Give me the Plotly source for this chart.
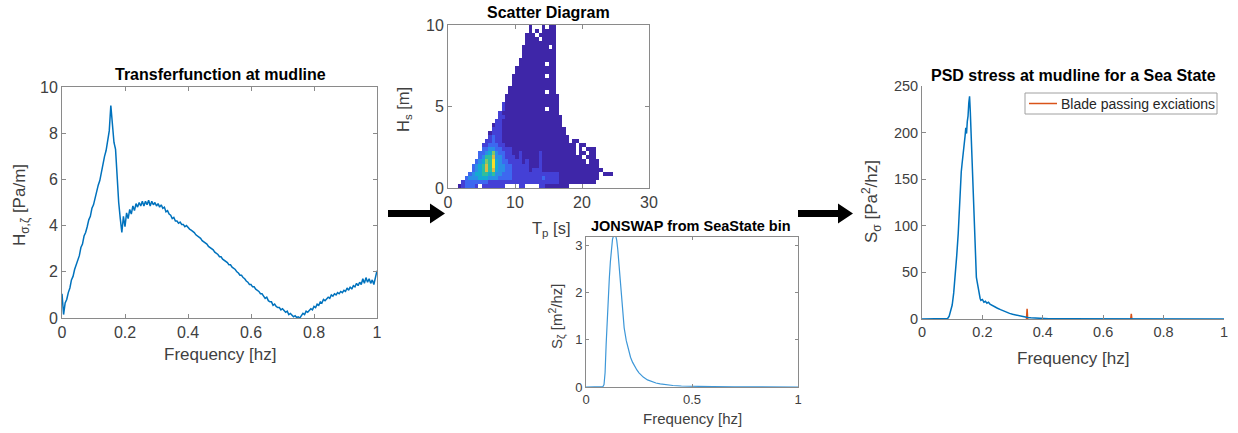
import numpy as np
import plotly.graph_objects as go

# ---------------------------------------------------------------------------
# Transfer function at mudline, H_sigma,zeta [Pa/m], sampled 0 ... 1 Hz (0.005 Hz)
# ---------------------------------------------------------------------------
tf_H = [
    1.05, 0.15, 0.65, 0.80, 1.10, 1.30, 1.65, 1.80, 2.10, 2.30,
    2.55, 2.70, 3.05, 3.20, 3.55, 3.70, 3.95, 4.25, 4.40, 4.75,
    4.90, 5.20, 5.40, 5.75, 5.95, 6.35, 6.60, 7.00, 7.25, 7.75,
    8.10, 9.20, 8.40, 7.60, 7.30, 6.00, 5.00, 4.30, 3.70, 4.40,
    3.95, 4.55, 4.30, 4.70, 4.50, 4.85, 4.65, 4.95, 4.80, 5.00,
    4.85, 5.05, 4.85, 5.05, 4.90, 5.10, 4.85, 5.05, 4.90, 5.00,
    4.85, 4.95, 4.80, 4.90, 4.75, 4.80, 4.60, 4.65, 4.50, 4.45,
    4.30, 4.35, 4.20, 4.20, 4.10, 4.15, 4.05, 4.05, 3.95, 4.00,
    3.90, 3.85, 3.80, 3.75, 3.70, 3.60, 3.55, 3.50, 3.45, 3.35,
    3.30, 3.25, 3.20, 3.10, 3.05, 3.00, 2.95, 2.85, 2.80, 2.75,
    2.65, 2.65, 2.55, 2.50, 2.45, 2.40, 2.30, 2.30, 2.20, 2.15,
    2.10, 2.00, 1.95, 1.85, 1.85, 1.75, 1.70, 1.60, 1.55, 1.45,
    1.45, 1.35, 1.35, 1.25, 1.20, 1.15, 1.05, 1.05, 0.95, 0.85,
    0.90, 0.75, 0.70, 0.70, 0.55, 0.60, 0.50, 0.45, 0.45, 0.35,
    0.40, 0.30, 0.25, 0.30, 0.15, 0.20, 0.10, 0.05, 0.10, 0.02,
    0.05, 0.00, 0.10, 0.20, 0.15, 0.30, 0.25, 0.35, 0.40, 0.35,
    0.50, 0.45, 0.60, 0.55, 0.70, 0.65, 0.80, 0.75, 0.85, 0.90,
    0.85, 1.00, 0.95, 1.05, 1.00, 1.10, 1.05, 1.15, 1.10, 1.20,
    1.15, 1.30, 1.20, 1.35, 1.25, 1.40, 1.35, 1.50, 1.40, 1.55,
    1.45, 1.70, 1.50, 1.75, 1.55, 1.70, 1.50, 1.65, 1.45, 1.70,
    2.05,
]
tf_freq = np.linspace(0.0, 1.0, len(tf_H))

# ---------------------------------------------------------------------------
# JONSWAP spectrum for one sea-state bin, S_zeta [m^2/hz]
# ---------------------------------------------------------------------------
js_freq = [0.0, 0.07, 0.08, 0.085, 0.09, 0.095, 0.10, 0.105, 0.11, 0.115,
           0.12, 0.125, 0.13, 0.135, 0.14, 0.145, 0.15, 0.155, 0.16, 0.165,
           0.17, 0.18, 0.19, 0.20, 0.21, 0.22, 0.23, 0.24, 0.25, 0.27,
           0.29, 0.31, 0.33, 0.35, 0.38, 0.41, 0.45, 0.50, 0.55, 0.60,
           0.70, 0.80, 0.90, 1.00]
js_S = [0.0, 0.0, 0.01, 0.05, 0.30, 0.90, 1.45, 1.95, 2.30, 2.65,
        2.95, 3.12, 3.20, 3.22, 3.20, 3.10, 2.90, 2.60, 2.25, 1.95,
        1.65, 1.25, 0.98, 0.78, 0.63, 0.52, 0.43, 0.36, 0.30, 0.21,
        0.15, 0.11, 0.085, 0.065, 0.045, 0.032, 0.021, 0.013, 0.009, 0.006,
        0.003, 0.0015, 0.0008, 0.0005]

# ---------------------------------------------------------------------------
# PSD of stress at mudline, S_sigma [Pa^2/hz]
# ---------------------------------------------------------------------------
psd_freq = [0.0, 0.08, 0.085, 0.09, 0.095, 0.10, 0.105, 0.11, 0.115, 0.12,
            0.1225, 0.125, 0.1275, 0.13, 0.1325, 0.135, 0.1375, 0.14, 0.1425, 0.145,
            0.1475, 0.15, 0.1525, 0.155, 0.1575, 0.16, 0.1625, 0.165, 0.1675, 0.17,
            0.1725, 0.175, 0.1775, 0.18, 0.1825, 0.185, 0.1875, 0.19, 0.1925, 0.195,
            0.20, 0.205, 0.21, 0.215, 0.22, 0.225, 0.23, 0.235, 0.24, 0.245,
            0.25, 0.26, 0.27, 0.28, 0.29, 0.30, 0.31, 0.32, 0.33, 0.34,
            0.35, 0.36, 0.37, 0.38, 0.39, 0.40, 0.42, 0.45, 0.50, 0.60,
            0.70, 0.80, 1.00]
psd_S = [0.0, 0.0, 0.5, 3.0, 8.0, 15.0, 28.0, 45.0, 68.0, 92.0,
         112.0, 128.0, 142.0, 158.0, 166.0, 172.0, 184.0, 190.0, 196.0, 205.0,
         199.0, 212.0, 218.0, 232.0, 239.0, 222.0, 200.0, 180.0, 150.0, 130.0,
         108.0, 80.0, 60.0, 45.0, 40.0, 35.0, 32.0, 27.0, 22.0, 20.0,
         21.0, 18.0, 19.0, 17.0, 18.0, 16.0, 15.0, 14.0, 13.0, 12.0,
         11.5, 10.0, 8.5, 7.2, 6.0, 5.0, 4.2, 3.4, 2.7, 2.2,
         1.7, 1.3, 1.0, 0.7, 0.5, 0.4, 0.25, 0.15, 0.08, 0.03,
         0.01, 0.0, 0.0]

# blade passing excitations (frequency [hz], amplitude [Pa^2/hz])
blade_freq = [0.348, 0.693]
blade_amp = [11.0, 5.5]
blade_label = "Blade passing exciations"

# ---------------------------------------------------------------------------
# Scatter diagram: occurrence class per (Hs, Tp) bin.
# Rows: Hs bins of 0.25 m from 0 m upwards; columns: Tp bins of 0.5 s from 0 s.
# Each row = (first Tp column, classes 1..9, '.' = no occurrence)
# ---------------------------------------------------------------------------
hs_bin = 0.25
tp_bin = 0.5
n_hs, n_tp = 40, 50
scatter_rows = [
    (3, "123332.2222222....22....221111111"),
    (4, "2333333322222" + "222222222222222211111" + "111111"),
    (5, "344455544433332" + "222222223222211111" + "1111111"),
    (6, "34556656443332" + "222222222222211111" + "1111111.111"),
    (7, "345686854433" + "2222212221111111111" + "11111111"),
    (7, "345686954433" + "2222211121111111111" + "1111111"),
    (8, "34576954332" + "2221211121111111111" + "111.111"),
    (9, "3466844322" + "2121111121111111111" + "11.111"),
    (9, "3345743322" + "1121111121111111111" + ".11.11"),
    (10, "3344332221" + "111111111111111111" + ".1.111"),
    (10, "2233322111" + "111111111111111111" + ".11"),
    (11, "2232211111" + "111111111111111" + ".11"),
    (12, "232211111111111111111111"),
    (12, "12221111111111111111111"),
    (13, "2221111111111111111111"),
    (13, "122111111111111111111"),
    (14, "22111111111111111111"),
    (15, "2211111111111111111"),
    (15, "211111111111111111"),
    (16, "2111111111111.111"),
    (16, "21111111111111111"),
    (17, "1111111111111111"),
    (17, "1111111111111111"),
    (18, "11111111111.11"),
    (18, "11111111111111"),
    (19, "1111111111111"),
    (19, "1111111111111"),
    (19, "1111111111.11"),
    (20, "111111111111"),
    (20, "111111111111"),
    (21, "11111111.11"),
    (21, "11111111111"),
    (22, "1111111111"),
    (22, "1111111111"),
    (22, "11111111.1"),
    (23, "111111111"),
    (23, "1111.1111"),
    (23, "111.11111"),
    (24, "1.1.1111"),
    (24, "1...1.11"),
]

scatter_z = [[None] * n_tp for _ in range(n_hs)]
for k, (start, cells) in enumerate(scatter_rows):
    for i, c in enumerate(cells):
        if c != ".":
            scatter_z[k][start + i] = int(c)
tp_centers = [tp_bin * (j + 0.5) for j in range(n_tp)]
hs_centers = [hs_bin * (k + 0.5) for k in range(n_hs)]

# parula-like colour scale for the occurrence classes
parula = [
    [0.000, "#3E26A8"], [0.125, "#4440D6"], [0.250, "#3D68F0"],
    [0.375, "#2A8EE6"], [0.500, "#14AAD2"], [0.625, "#2EBE9E"],
    [0.750, "#80C868"], [0.875, "#D8BC45"], [1.000, "#F6DF2A"],
]

# ---------------------------------------------------------------------------
W, H = 1238, 433
FONT = "Liberation Sans, Arial, sans-serif"
AXC = "#8a8a8a"
TXT = "#404040"
BLUE = "#0072BD"
ORANGE = "#D95319"


def px(x):
    """x in pixels from the left -> paper fraction"""
    return x / W


def py(y):
    """y in pixels from the top -> paper fraction"""
    return 1 - y / H


def axis(domain, rng, tickvals, ticktext, anchor, mirror, fsize, ticklen=4):
    return dict(
        domain=domain, range=rng, tickvals=tickvals, ticktext=ticktext,
        anchor=anchor, showline=True, linecolor=AXC, linewidth=1,
        mirror=mirror, ticks="inside", ticklen=ticklen, tickcolor=AXC,
        showgrid=False, zeroline=False, fixedrange=True, automargin=False,
        tickfont=dict(family=FONT, size=fsize, color=TXT),
    )


fig = go.Figure()

# transfer function
fig.add_trace(go.Scatter(x=tf_freq, y=tf_H, mode="lines",
                         line=dict(color=BLUE, width=1.5),
                         xaxis="x", yaxis="y", showlegend=False))

# scatter diagram
fig.add_trace(go.Heatmap(x=tp_centers, y=hs_centers, z=scatter_z,
                         colorscale=parula, zmin=1, zmax=9, showscale=False,
                         xaxis="x2", yaxis="y2", hoverongaps=False))

# JONSWAP spectrum
fig.add_trace(go.Scatter(x=js_freq, y=js_S, mode="lines",
                         line=dict(color="#3d97d8", width=1.2),
                         xaxis="x3", yaxis="y3", showlegend=False))

# blade passing spikes (drawn below the stress PSD)
bx, by = [], []
for f, a in zip(blade_freq, blade_amp):
    bx += [f - 0.002, f, f + 0.002, None]
    by += [0.0, a, 0.0, None]
fig.add_trace(go.Scatter(x=bx, y=by, mode="lines",
                         line=dict(color=ORANGE, width=1.5),
                         name=blade_label,
                         xaxis="x4", yaxis="y4", showlegend=False))

# stress PSD
fig.add_trace(go.Scatter(x=psd_freq, y=psd_S, mode="lines",
                         line=dict(color=BLUE, width=1.5),
                         xaxis="x4", yaxis="y4", showlegend=False))

f_ticks = [0, 0.2, 0.4, 0.6, 0.8, 1]
f_text = ["0", "0.2", "0.4", "0.6", "0.8", "1"]

layout = dict(
    width=W, height=H, autosize=False,
    margin=dict(l=0, r=0, t=0, b=0, pad=0),
    paper_bgcolor="white", plot_bgcolor="white",
    font=dict(family=FONT, color=TXT),
    showlegend=False,
    xaxis=axis([px(62), px(377)], [0, 1], f_ticks, f_text, "y", "ticks", 16),
    yaxis=axis([py(318), py(87)], [0, 10], [0, 2, 4, 6, 8, 10],
               ["0", "2", "4", "6", "8", "10"], "x", "ticks", 16),
    xaxis2=axis([px(448), px(649)], [0, 30], [0, 10, 20, 30],
                ["0", "10", "20", "30"], "y2", "ticks", 16),
    yaxis2=axis([py(188), py(25)], [0, 10], [0, 5, 10],
                ["0", "5", "10"], "x2", "ticks", 16),
    xaxis3=axis([px(586), px(798)], [0, 1], [0, 0.5, 1],
                ["0", "0.5", "1"], "y3", "ticks", 13, 3),
    yaxis3=axis([py(387), py(237)], [0, 3.17], [0, 1, 2, 3],
                ["0", "1", "2", "3"], "x3", "ticks", 13, 3),
    xaxis4=axis([px(922), px(1224)], [0, 1], f_ticks, f_text, "y4", False, 14.5),
    yaxis4=axis([py(319), py(86)], [0, 250], [0, 50, 100, 150, 200, 250],
                ["0", "50", "100", "150", "200", "250"], "x4", False, 14.5),
)
fig.update_layout(**layout)

# titles and axis labels
texts = [
    ("<b>Transferfunction at mudline</b>", 220, 74, 16, 0, "#000000"),
    ("<b>Scatter Diagram</b>", 548, 12.5, 16, 0, "#000000"),
    ("<b>JONSWAP from SeaState bin</b>", 691, 226, 14.5, 0, "#000000"),
    ("<b>PSD stress at mudline for a Sea State</b>", 1073, 75, 16, 0, "#000000"),
    ("Frequency [hz]", 220, 354, 17, 0, TXT),
    ("H<sub>σ,ζ</sub> [Pa/m]", 21, 205, 17, -90, TXT),
    ("H<sub>s</sub> [m]", 404, 110, 16.5, -90, TXT),
    ("T<sub>p</sub> [s]", 551, 229, 16.5, 0, TXT),
    ("Frequency [hz]", 692, 418, 15, 0, TXT),
    ("S<sub>ζ</sub> [m<sup>2</sup>/hz]", 556, 316, 15, -90, TXT),
    ("Frequency [hz]", 1073, 358, 17, 0, TXT),
    ("S<sub>σ</sub> [Pa<sup>2</sup>/hz]", 871, 202, 17, -90, TXT),
]
for t, x, y, s, ang, col in texts:
    fig.add_annotation(text=t, x=px(x), y=py(y), xref="paper", yref="paper",
                       xanchor="center", yanchor="middle", showarrow=False,
                       textangle=ang, font=dict(family=FONT, size=s, color=col))

# legend box for the blade passing line
fig.add_shape(type="rect", x0=px(1025), x1=px(1217), y0=py(114), y1=py(93),
              xref="paper", yref="paper", fillcolor="white",
              line=dict(color="#a0a0a0", width=1))
fig.add_shape(type="line", x0=px(1029), x1=px(1057), y0=py(103.5), y1=py(103.5),
              xref="paper", yref="paper", line=dict(color=ORANGE, width=1.5))
fig.add_annotation(text=blade_label, x=px(1059), y=py(103.5), xref="paper",
                   yref="paper", xanchor="left", yanchor="middle",
                   showarrow=False,
                   font=dict(family=FONT, size=14, color="#262626"))


# black flow arrows between the panels
def arrow_path(x0, x1, yc):
    head = 15
    pts = [(x0, yc - 3.5), (x1 - head, yc - 3.5), (x1 - head, yc - 10),
           (x1, yc), (x1 - head, yc + 10), (x1 - head, yc + 3.5), (x0, yc + 3.5)]
    return "M " + " L ".join(f"{px(a):.5f},{py(b):.5f}" for a, b in pts) + " Z"


for x0, x1, yc in [(388, 445, 213.5), (798, 853, 213.5)]:
    fig.add_shape(type="path", path=arrow_path(x0, x1, yc), xref="paper",
                  yref="paper", fillcolor="black", line=dict(width=0))

fig.write_html("out.html")
